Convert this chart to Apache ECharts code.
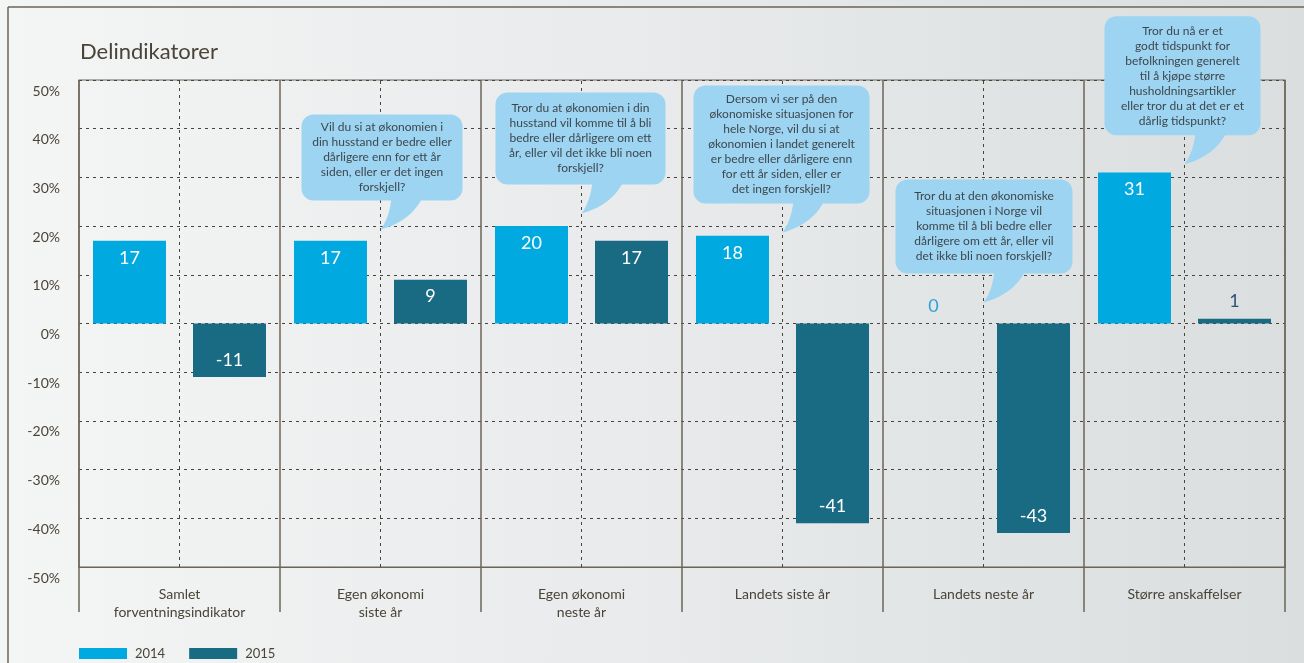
<!DOCTYPE html>
<html><head><meta charset="utf-8">
<script src="https://cdn.jsdelivr.net/npm/echarts@6/dist/echarts.min.js"></script>
<style>
html,body{margin:0;padding:0;}
#c{width:1304px;height:663px;background:linear-gradient(90deg,#f4f5f5 0%,#e8eaeb 50%,#dadedf 100%);}
</style></head><body><div id="c"></div>
<script>
// ---- data ----
const categories = ["Samlet\nforventningsindikator", "Egen økonomi\nsiste år", "Egen økonomi\nneste år", "Landets siste år", "Landets neste år", "Større anskaffelser"];
const seriesNames = ["2014", "2015"];
const values2014 = [17, 17, 20, 18, 0, 31];
const values2015 = [-11, 9, 17, -41, -43, 1];
const yTickValues = [-50, -40, -30, -20, -10, 0, 10, 20, 30, 40, 50];
const questions = [
  null,
  ["Vil du si at økonomien i", "din husstand er bedre eller", "dårligere enn for ett år", "siden, eller er det ingen", "forskjell?"],
  ["Tror du at økonomien i din", "husstand vil komme til å bli", "bedre eller dårligere om ett", "år, eller vil det ikke bli noen", "forskjell?"],
  ["Dersom vi ser på den", "økonomiske situasjonen for", "hele Norge, vil du si at", "økonomien i landet generelt", "er bedre eller dårligere enn", "for ett år siden, eller er", "det ingen forskjell?"],
  ["Tror du at den økonomiske", "situasjonen i Norge vil", "komme til å bli bedre eller", "dårligere om ett år, eller vil", "det ikke bli noen forskjell?"],
  ["Tror du nå er et", "godt tidspunkt for", "befolkningen generelt", "til å kjøpe større", "husholdningsartikler", "eller tror du at det er et", "dårlig tidspunkt?"]
];

// ---- styles / layout (annotation placement) ----
const C2014 = '#00aae1', C2015 = '#196a83', INK = '#4a4438', LINE = '#6b6558';
const BUBBLE = '#9dd4f2', BUBBLE_TEXT = '#3d474d';
const FONT = 'Lato, "Open Sans", sans-serif';
// tip value (y, in %) and bubble box relative to tip: [dxLeft, width, height]
const bubbleLayout = [null,
  {tip: 19.3, box: [-79, 161, 86]},
  {tip: 22.6, box: [-86, 170, 92]},
  {tip: 18.7, box: [-89, 176, 118]},
  {tip: 4.3,  box: [-88, 177, 94]},
  {tip: 32.7, box: [-80, 156, 119]}
];

function makeData(vals, smallColor) {
  return vals.map(v => {
    let pos = v < 0 ? 'insideBottom' : 'insideTop';
    let col = '#fff';
    if (Math.abs(v) < 3) { pos = 'top'; col = smallColor; }
    return {value: v, label: {position: pos, color: col}};
  });
}

const chart = echarts.init(document.getElementById('c'), null, {renderer: 'canvas'});
const dotted = {color: INK, width: 1, type: [3, 4]};

const option = {
  backgroundColor: 'transparent',
  textStyle: {fontFamily: FONT},
  title: {text: 'Delindikatorer', left: 75, top: 36,
    textStyle: {fontFamily: FONT, fontSize: 22, fontWeight: 'normal', color: INK}},
  legend: {left: 74, top: 642, itemWidth: 48, itemHeight: 11, itemGap: 24,
    icon: 'rect', textStyle: {fontFamily: FONT, fontSize: 13, color: INK, padding: [0, 0, 0, 3]},
    data: seriesNames},
  grid: {left: 79, right: 19, top: 80, bottom: 96, show: true, borderColor: LINE, borderWidth: 1.2},
  xAxis: {
    type: 'category', data: categories,
    axisLine: {show: true, onZero: false, lineStyle: {color: LINE, width: 1.2}},
    axisTick: {show: true, length: 45, interval: 0, lineStyle: {color: LINE, width: 1.5}},
    axisLabel: {color: INK, fontSize: 14, fontFamily: FONT, margin: 18, lineHeight: 18, verticalAlign: 'top', interval: 0},
    splitLine: {show: true, interval: 0, lineStyle: {color: LINE, width: 1.5}}
  },
  yAxis: {
    type: 'value', min: yTickValues[0], max: yTickValues[yTickValues.length - 1], interval: 10,
    axisLine: {show: false}, axisTick: {show: false},
    axisLabel: {color: INK, fontSize: 14, fontFamily: FONT, margin: 19, verticalAlign: 'top', padding: [4, 0, 0, 0],
      formatter: v => v + '%'},
    splitLine: {show: true, lineStyle: dotted}
  },
  series: [
    {name: seriesNames[0], type: 'bar', barWidth: 73, barGap: '37%',
      itemStyle: {color: C2014},
      label: {show: true, fontSize: 18, fontFamily: FONT, distance: 8},
      data: makeData(values2014, '#2aa3dc')},
    {name: seriesNames[1], type: 'bar', barWidth: 73,
      itemStyle: {color: C2015},
      label: {show: true, fontSize: 18, fontFamily: FONT, distance: 8},
      data: makeData(values2015, '#34507a')},
    {name: 'centers', type: 'line', data: categories.map(() => '-'), symbol: 'none', silent: true,
      markLine: {silent: true, symbol: 'none', label: {show: false}, lineStyle: dotted,
        data: categories.map(c => ({xAxis: c}))}}
  ]
};
chart.setOption(option);

function quad(p0, c, p2, n) {
  const pts = [];
  for (let i = 0; i <= n; i++) {
    const t = i / n, a = (1 - t) * (1 - t), b = 2 * (1 - t) * t, d = t * t;
    pts.push([a * p0[0] + b * c[0] + d * p2[0], a * p0[1] + b * c[1] + d * p2[1]]);
  }
  return pts;
}

function drawBubbles() {
  const els = [
    {type: 'line', shape: {x1: 8, y1: 7, x2: 8, y2: 663}, style: {stroke: LINE, lineWidth: 1.5}, z: 10},
    {type: 'line', shape: {x1: 8, y1: 7, x2: 1304, y2: 7}, style: {stroke: LINE, lineWidth: 1.5}, z: 10}
  ];
  questions.forEach((q, i) => {
    if (!q) return;
    const L = bubbleLayout[i];
    const tip = chart.convertToPixel({xAxisIndex: 0, yAxisIndex: 0}, [i, L.tip]);
    const tx = tip[0], ty = tip[1];
    const x = tx + L.box[0], w = L.box[1], h = L.box[2];
    const y = ty - 29 - h;
    const left = quad([tx + 11, ty - 32], [tx + 9, ty - 12], [tx, ty], 10);
    const right = quad([tx, ty], [tx + 30, ty - 8], [tx + 42, ty - 32], 10);
    els.push({type: 'polygon', shape: {points: left.concat(right.slice(1))}, style: {fill: BUBBLE}, z: 20});
    els.push({type: 'rect', shape: {x: x, y: y, width: w, height: h, r: 12}, style: {fill: BUBBLE}, z: 20});
    els.push({type: 'text', x: x + w / 2, y: y + h / 2, z: 21,
      style: {text: q.join('\n'), fill: BUBBLE_TEXT, font: '12px ' + FONT, lineHeight: 15,
        textAlign: 'center', textVerticalAlign: 'middle', align: 'center', verticalAlign: 'middle'}});
  });
  chart.setOption({graphic: {elements: els}});
}
drawBubbles();
</script></body></html>
